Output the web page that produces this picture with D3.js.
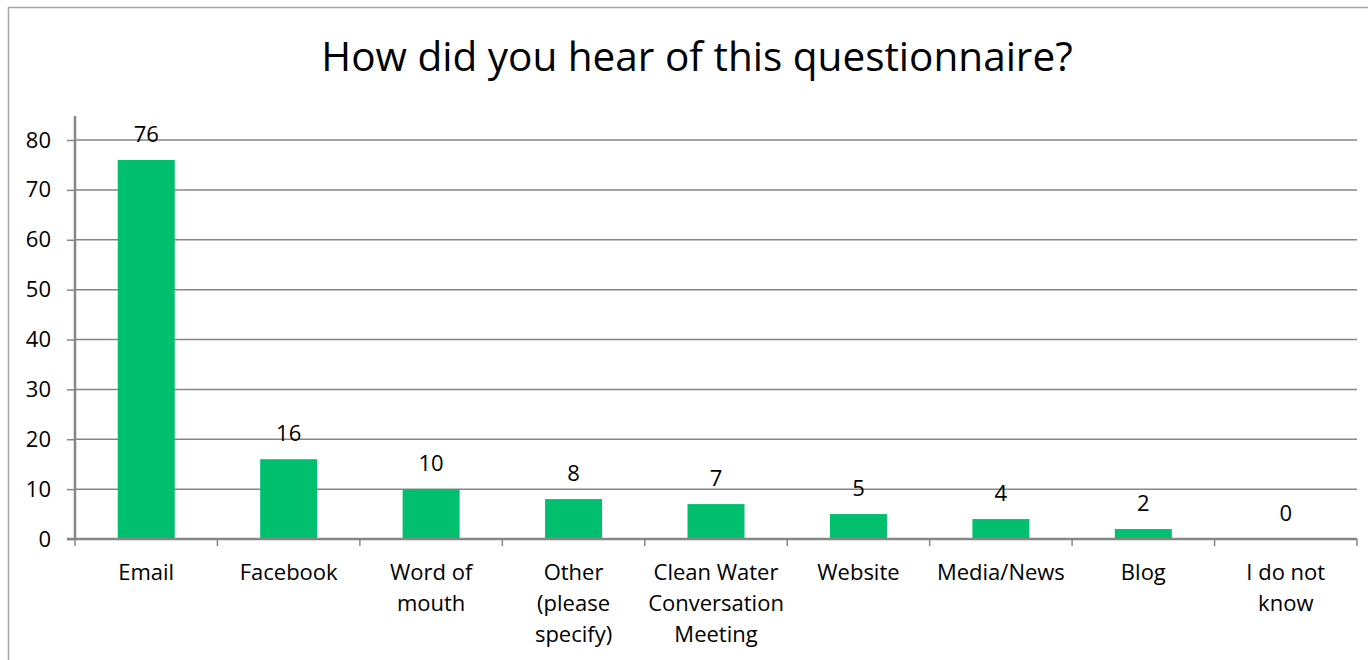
<!DOCTYPE html>
<html>
<head>
<meta charset="utf-8">
<script src="https://cdn.jsdelivr.net/npm/d3@7"></script>
<style>
  html, body { margin: 0; padding: 0; background: #fff; }
  svg { display: block; }
  text { font-family: "Open Sans", Lato, sans-serif; fill: #000; }
</style>
</head>
<body>
<svg id="chart" width="1368" height="660"></svg>
<script>
// Survey responses: how respondents heard of the questionnaire
const categories = [
  "Email", "Facebook", "Word of mouth", "Other (please specify)",
  "Clean Water Conversation Meeting", "Website", "Media/News", "Blog", "I do not know"
];
const categoryLines = [
  ["Email"], ["Facebook"], ["Word of", "mouth"], ["Other", "(please", "specify)"],
  ["Clean Water", "Conversation", "Meeting"], ["Website"], ["Media/News"], ["Blog"], ["I do not", "know"]
];
const counts = [76, 16, 10, 8, 7, 5, 4, 2, 0];
const yTicks = [0, 10, 20, 30, 40, 50, 60, 70, 80];
const title = "How did you hear of this questionnaire?";

const svg = d3.select("#chart");
const W = 1368, H = 660;
const FONT = "'Open Sans', Lato, sans-serif";
const LABEL_SIZE = "22px";

// chart frame
svg.append("rect")
  .attr("x", 8.5).attr("y", 7.5)
  .attr("width", W + 10).attr("height", H)
  .attr("fill", "#fff").attr("stroke", "#a6a6a6").attr("stroke-width", 1.5);

const plot = { left: 75, right: 1357, top: 116, bottom: 539 };

const x = d3.scaleBand()
  .domain(categories)
  .range([plot.left, plot.right])
  .paddingInner(0.6).paddingOuter(0.3);

const y = d3.scaleLinear().domain([0, 80]).range([plot.bottom, 140]);

// title
svg.append("text")
  .attr("x", 697).attr("y", 71)
  .attr("text-anchor", "middle")
  .style("font-size", "40.5px")
  .text(title);

// horizontal gridlines
svg.append("g").selectAll("line")
  .data(yTicks.filter(d => d > 0))
  .join("line")
  .attr("x1", plot.left).attr("x2", plot.right)
  .attr("y1", d => y(d)).attr("y2", d => y(d))
  .attr("stroke", "#868686").attr("stroke-width", 1.5);

// y axis
const yAxis = d3.axisLeft(y).tickValues(yTicks).tickSize(8).tickPadding(16);
const gy = svg.append("g").attr("transform", `translate(${plot.left},0)`).call(yAxis);
gy.select(".domain").remove();
gy.selectAll(".tick line").attr("stroke", "#868686").attr("stroke-width", 1.5);
gy.selectAll(".tick text").style("font-size", LABEL_SIZE).style("font-family", FONT).attr("fill", "#000");
svg.append("line")
  .attr("x1", plot.left).attr("x2", plot.left)
  .attr("y1", plot.top).attr("y2", plot.bottom + 1)
  .attr("stroke", "#868686").attr("stroke-width", 2.5);

// bars
svg.append("g").selectAll("rect")
  .data(counts)
  .join("rect")
  .attr("x", (d, i) => x(categories[i]))
  .attr("width", x.bandwidth())
  .attr("y", d => y(d))
  .attr("height", d => y(0) - y(d))
  .attr("fill", "#00bf6f");

// value labels
svg.append("g").selectAll("text")
  .data(counts)
  .join("text")
  .attr("x", (d, i) => x(categories[i]) + x.bandwidth() / 2)
  .attr("y", d => y(d) - 18)
  .attr("text-anchor", "middle")
  .style("font-size", LABEL_SIZE)
  .text(d => d);

// x axis baseline and category boundary ticks
const step = x.step();
const boundaries = d3.range(categories.length + 1).map(i => plot.left + i * step);
svg.append("g").selectAll("line")
  .data(boundaries)
  .join("line")
  .attr("x1", d => d).attr("x2", d => d)
  .attr("y1", plot.bottom).attr("y2", plot.bottom + 7)
  .attr("stroke", "#868686").attr("stroke-width", 1.5);
svg.append("line")
  .attr("x1", plot.left - 8).attr("x2", plot.right)
  .attr("y1", plot.bottom).attr("y2", plot.bottom)
  .attr("stroke", "#868686").attr("stroke-width", 2.5);

// category labels
const labels = svg.append("g").selectAll("text")
  .data(categoryLines)
  .join("text")
  .attr("text-anchor", "middle")
  .style("font-size", LABEL_SIZE)
  .attr("transform", (d, i) => `translate(${x(categories[i]) + x.bandwidth() / 2},580)`);
labels.selectAll("tspan")
  .data(d => d)
  .join("tspan")
  .attr("x", 0)
  .attr("y", (d, j) => j * 31)
  .text(d => d);
</script>
</body>
</html>
